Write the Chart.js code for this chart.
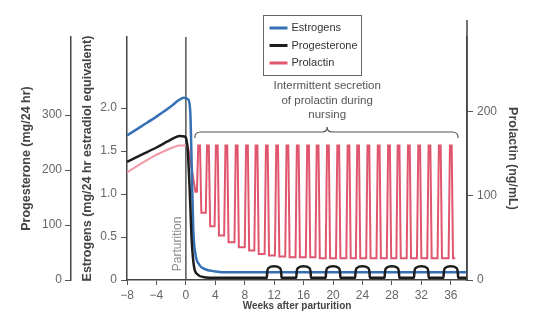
<!DOCTYPE html>
<html>
<head>
<meta charset="utf-8">
<script src="https://cdn.jsdelivr.net/npm/chart.js@4.4.1/dist/chart.umd.min.js"></script>
<style>
  html, body { margin: 0; padding: 0; background: #fff; }
</style>
</head>
<body>
<canvas id="myChart" width="534" height="320"></canvas>
<script>
///// HORMONES AROUND PARTURITION /////

Chart.defaults.font.family = '"Liberation Sans", Arial, sans-serif';
Chart.defaults.font.size = 12;

// Axis ticks
const weekTicks = [-8, -4, 0, 4, 8, 12, 16, 20, 24, 28, 32, 36];
const estrogenTicks = [0, 0.5, 1.0, 1.5, 2.0];
const progesteroneTicks = [0, 100, 200, 300];
const prolactinTicks = [0, 100, 200];

const seriesLabels = ['Estrogens', 'Progesterone', 'Prolactin'];
const noteLines = ['Intermittent secretion', 'of prolactin during', 'nursing'];

// Estrogens (mg/24 hr estradiol equivalent)
const estrogenWeeks  = [-8, -6, -4, -2, -1, -0.3, 0.3, 0.6, 0.8, 1.0, 1.3, 1.8, 2.5, 4, 6, 38.2];
const estrogenValues = [1.68, 1.79, 1.9, 2.02, 2.09, 2.12, 2.1, 1.95, 1.3, 0.6, 0.3, 0.18, 0.13, 0.1, 0.09, 0.09];

// Progesterone (mg/24 hr)
const progesteroneWeeks  = [-8, -6, -4, -2.5, -1.5, -0.8, -0.2, 0.2, 0.5, 0.8, 1.1, 1.6, 2.5, 4, 10.8];
const progesteroneValues = [215, 228, 241, 252, 259, 262, 261, 245, 170, 70, 25, 10, 5, 4, 4];
// little humps once cycles come back
const humpWeeks = [12, 16, 20, 24, 28, 32, 36];
const humpOffsets = [-1.0, -0.95, -0.75, 0, 0.75, 0.95, 1.0];
const humpValues  = [4, 14, 22, 25, 22, 14, 4];
const progesteroneEnd = [38.2, 4];

// Prolactin (ng/mL)
const prolactinWeeks  = [-8, -6, -4, -2, -1, 0, 0.3, 1.3];
const prolactinValues = [128, 139, 149, 157, 160, 160, 158, 105];
// nursing bursts
const burstWeeks = [1.8, 3.0, 4.2, 5.5, 6.9, 8.3, 9.6, 11.0, 12.4, 13.8, 15.2, 16.6, 17.9,
                    19.3, 20.7, 22.1, 23.4, 24.8, 26.2, 27.6, 28.9, 30.3, 31.7, 33.1, 34.5, 36.0];
const burstPeak = 160;
const burstTroughs = [80, 64, 53, 45, 39, 35, 31, 29, 28, 27, 27, 27, 26,
                      26, 26, 26, 26, 26, 26, 26, 26, 26, 26, 26, 26, 26];
const prolactinEndWeek = 36.6;

function toPoints(xs, ys) {
    return xs.map((x, i) => ({ x: x, y: ys[i] }));
}

const estrogenPoints = toPoints(estrogenWeeks, estrogenValues);

const progesteronePoints = toPoints(progesteroneWeeks, progesteroneValues);
humpWeeks.forEach(c => {
    humpOffsets.forEach((dx, i) => progesteronePoints.push({ x: c + dx, y: humpValues[i] }));
});
progesteronePoints.push({ x: progesteroneEnd[0], y: progesteroneEnd[1] });

const prolactinPoints = toPoints(prolactinWeeks, prolactinValues);
burstWeeks.forEach((w, i) => {
    const before = i === 0 ? prolactinValues[prolactinValues.length - 1] : burstTroughs[i - 1];
    prolactinPoints.push(
        { x: w - 0.3, y: before },
        { x: w - 0.12, y: burstPeak },
        { x: w + 0.12, y: burstPeak },
        { x: w + 0.3, y: burstTroughs[i] }
    );
});
prolactinPoints.push({ x: prolactinEndWeek, y: burstTroughs[burstTroughs.length - 1] });

const colors = ['#3670b4', '#1d1d1d', '#e0566e'];
const tickFont = { size: 12 };
const titleFont = { size: 12.5, weight: 'bold' };
const tickColor = '#666';
const lineColor = '#555';

// extras drawn on the canvas: parturition line, legend box, nursing note
const decor = {
    id: 'decor',
    beforeDatasetsDraw(chart) {
        const { ctx, chartArea, scales } = chart;
        const x0 = scales.x.getPixelForValue(0);
        ctx.save();
        ctx.strokeStyle = '#555';
        ctx.lineWidth = 1.5;
        ctx.beginPath();
        ctx.moveTo(x0, chartArea.top);
        ctx.lineTo(x0, chartArea.bottom);
        ctx.stroke();
        ctx.translate(x0 - 8.5, scales.y.getPixelForValue(0.42));
        ctx.rotate(-Math.PI / 2);
        ctx.fillStyle = '#8a8a8a';
        ctx.font = '12px "Liberation Sans", Arial, sans-serif';
        ctx.textAlign = 'center';
        ctx.textBaseline = 'middle';
        ctx.fillText('Parturition', 0, 0);
        ctx.restore();
    },
    afterDraw(chart) {
        const { ctx, chartArea, scales } = chart;
        ctx.save();

        // right axis runs up higher than the plot
        ctx.strokeStyle = '#444';
        ctx.lineWidth = 1.5;
        ctx.beginPath();
        ctx.moveTo(chartArea.right, chartArea.bottom);
        ctx.lineTo(chartArea.right, chartArea.top - 17);
        ctx.stroke();

        // legend
        const lx = 263.5, ly = 15.5, lw = 98, lh = 60;
        ctx.fillStyle = '#fff';
        ctx.fillRect(lx, ly, lw, lh);
        ctx.strokeStyle = '#666';
        ctx.lineWidth = 1;
        ctx.strokeRect(lx, ly, lw, lh);
        ctx.font = '11px "Liberation Sans", Arial, sans-serif';
        ctx.textAlign = 'left';
        ctx.textBaseline = 'middle';
        chart.data.datasets.forEach((ds, i) => {
            const y = ly + 12.5 + i * 17.5;
            ctx.strokeStyle = ds.legendColor;
            ctx.lineWidth = 3;
            ctx.beginPath();
            ctx.moveTo(lx + 6, y);
            ctx.lineTo(lx + 24, y);
            ctx.stroke();
            ctx.fillStyle = '#333';
            ctx.fillText(ds.label, lx + 28, y);
        });

        // note + brace over the nursing period
        const xm = scales.x.getPixelForValue(19.2);
        ctx.font = '11.5px "Liberation Sans", Arial, sans-serif';
        ctx.fillStyle = '#555';
        ctx.textAlign = 'center';
        noteLines.forEach((t, i) => ctx.fillText(t, xm, 86 + i * 14.5));

        const xL = scales.x.getPixelForValue(1.2);
        const xR = scales.x.getPixelForValue(37.0);
        const yb = scales.yR.getPixelForValue(176);
        ctx.strokeStyle = '#555';
        ctx.lineWidth = 1.2;
        ctx.beginPath();
        ctx.moveTo(xL, yb + 6);
        ctx.quadraticCurveTo(xL, yb, xL + 6, yb);
        ctx.lineTo(xm - 5, yb);
        ctx.quadraticCurveTo(xm, yb, xm, yb - 5);
        ctx.quadraticCurveTo(xm, yb, xm + 5, yb);
        ctx.lineTo(xR - 6, yb);
        ctx.quadraticCurveTo(xR, yb, xR, yb + 6);
        ctx.stroke();

        ctx.restore();
    }
};

const myChart = new Chart('myChart', {
    type: 'line',
    data: {
        datasets: [{
            label: seriesLabels[0],
            data: estrogenPoints,
            yAxisID: 'y',
            borderColor: colors[0],
            legendColor: colors[0],
            borderWidth: 2.5,
            cubicInterpolationMode: 'monotone',
            order: 1
        }, {
            label: seriesLabels[1],
            data: progesteronePoints,
            yAxisID: 'yP',
            borderColor: colors[1],
            legendColor: colors[1],
            borderWidth: 2.5,
            cubicInterpolationMode: 'monotone',
            order: 0
        }, {
            label: seriesLabels[2],
            data: prolactinPoints,
            yAxisID: 'yR',
            borderColor: colors[2],
            legendColor: colors[2],
            borderWidth: 2,
            tension: 0,
            segment: {
                borderColor: c => c.p1.parsed.x <= 0.3 ? '#f09aa6' : colors[2]
            },
            order: 2
        }]
    },
    options: {
        responsive: false,
        animation: false,
        events: [],
        elements: { point: { radius: 0 } },
        layout: { padding: { left: 16, right: 11, top: 37, bottom: 4 } },
        plugins: {
            legend: { display: false },
            tooltip: { enabled: false }
        },
        scales: {
            x: {
                type: 'linear',
                min: -8,
                max: 38.2,
                afterBuildTicks: s => { s.ticks = weekTicks.map(v => ({ value: v })); },
                ticks: {
                    font: tickFont, color: tickColor, padding: 3,
                    maxRotation: 0, autoSkip: false,
                    callback: v => String(v).replace('-', '\u2212')
                },
                grid: { drawOnChartArea: false, tickLength: 5, color: lineColor },
                border: { color: '#444', width: 1.5 },
                title: {
                    display: true, text: 'Weeks after parturition',
                    font: { size: 10, weight: 'bold' }, color: '#444',
                    padding: { top: 4, bottom: 4 }
                },
                afterFit: s => { s.height = 36; }
            },
            y: {
                position: 'left',
                weight: 0,
                min: 0,
                max: 2.826,
                afterBuildTicks: s => { s.ticks = estrogenTicks.map(v => ({ value: v })); },
                ticks: {
                    font: tickFont, color: tickColor, padding: 4,
                    callback: v => v === 0 ? '0' : v.toFixed(1)
                },
                grid: { drawOnChartArea: false, tickLength: 6, color: lineColor },
                border: { color: '#444', width: 1.5 },
                title: {
                    display: true, text: 'Estrogens (mg/24 hr estradiol equivalent)',
                    font: titleFont, color: '#444', padding: { top: 9, bottom: 4 }
                },
                afterFit: s => { s.width = 56; }
            },
            yP: {
                position: 'left',
                weight: 1,
                min: 0,
                max: 442,
                afterBuildTicks: s => { s.ticks = progesteroneTicks.map(v => ({ value: v })); },
                ticks: { font: tickFont, color: tickColor, padding: 3 },
                grid: { drawOnChartArea: false, tickLength: 6, color: lineColor },
                border: { color: '#444', width: 1.5 },
                title: {
                    display: true, text: 'Progesterone (mg/24 hr)',
                    font: titleFont, color: '#444', padding: { top: 3, bottom: 4 }
                },
                afterFit: s => { s.width = 55; }
            },
            yR: {
                position: 'right',
                min: 0,
                max: 289,
                afterBuildTicks: s => { s.ticks = prolactinTicks.map(v => ({ value: v })); },
                ticks: { font: tickFont, color: tickColor, padding: 4 },
                grid: { drawOnChartArea: false, tickLength: 6, color: lineColor },
                border: { color: '#444', width: 1.5 },
                title: {
                    display: true, text: 'Prolactin (ng/mL)',
                    font: titleFont, color: '#444', padding: { top: 3, bottom: 4 }
                },
                afterFit: s => { s.width = 56; }
            }
        }
    },
    plugins: [decor]
});
</script>
</body>
</html>
